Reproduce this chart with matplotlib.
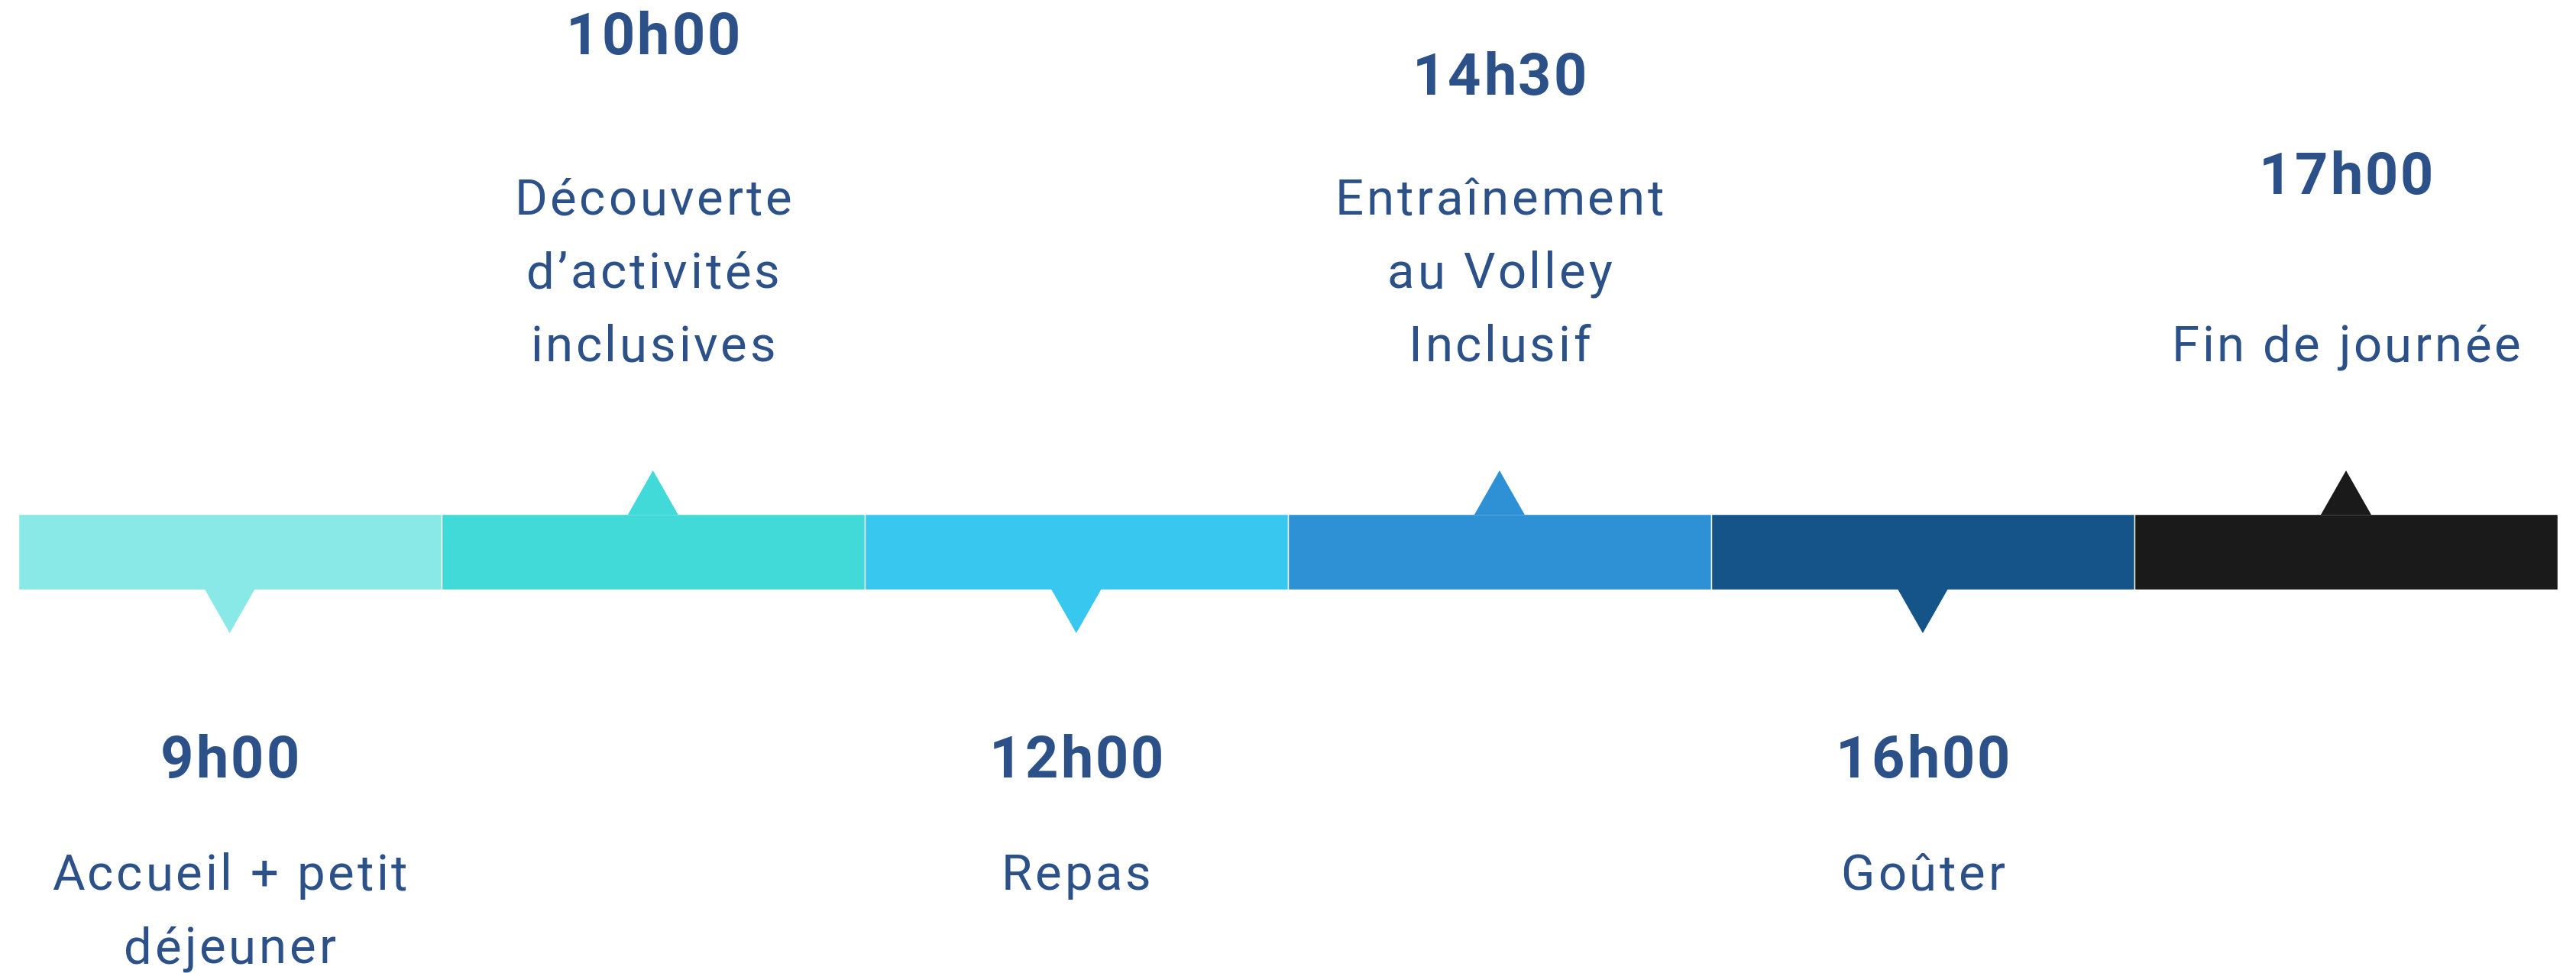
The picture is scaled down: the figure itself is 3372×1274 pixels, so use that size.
import matplotlib
matplotlib.use("Agg")
import matplotlib.pyplot as plt
from matplotlib.patches import Polygon
from matplotlib.font_manager import findfont, FontProperties
from matplotlib.ft2font import FT2Font

# ---- data ----
times = ["9h00", "10h00", "12h00", "14h30", "16h00", "17h00"]
activities = [
    ["Accueil + petit", "déjeuner"],
    ["Découverte", "d\u2019activités", "inclusives"],
    ["Repas"],
    ["Entraînement", "au Volley", "Inclusif"],
    ["Goûter"],
    ["Fin de journée"],
]
sides = ["below", "above", "below", "above", "below", "above"]
colors = ["#89E9E7", "#41DAD8", "#38C8EF", "#2E91D5", "#145489", "#1A1A1A"]

# ---- layout (pixel-based vertical scale) ----
W, H, DPI = 3372, 1274, 100
seg_px = 554.05
left_px = 23.7
bar_top, bar_bot = 673, 772
tri_half = 33 / seg_px
tri_h = 57
text_color = "#2C5189"
title_fs = 54.5
desc_fs = 47
title_track = 3.0
desc_track = 3.8
line_gap = 96
above_last_baseline = 473
above_title_baselines = {1: 71, 3: 124, 5: 254}
below_title_baseline = 1018
below_first_baseline = 1165

fig = plt.figure(figsize=(W / DPI, H / DPI), dpi=DPI)
ax = fig.add_axes([0, 0, 1, 1])
ax.set_xlim(-left_px / seg_px, (W - left_px) / seg_px)
ax.set_ylim(H, 0)
ax.axis("off")

_fonts = {}


def get_font(weight, size):
    key = (weight, size)
    if key not in _fonts:
        path = findfont(FontProperties(family="Roboto", weight=weight))
        f = FT2Font(path)
        f.set_size(size, DPI)
        _fonts[key] = f
    return _fonts[key]


def spaced_text(xc, y, s, size, weight, track):
    f = get_font(weight, size)
    advs = []
    for ch in s:
        g = f.load_char(ord(ch))
        advs.append(g.linearHoriAdvance / 65536.0)
    total = sum(advs) + track * (len(s) - 1)
    pen = -total / 2.0
    for ch, adv in zip(s, advs):
        if ch != " ":
            ax.text(xc + (pen + adv / 2.0) / seg_px, y, ch, ha="center",
                    va="baseline", fontsize=size, fontweight=weight,
                    family="Roboto", color=text_color)
        pen += adv + track


n = len(times)
idx = list(range(n))
ax.bar([i + 0.5 for i in idx], [bar_bot - bar_top] * n, width=1.0,
       bottom=bar_top, color=colors, edgecolor="white", linewidth=1.0, zorder=2)

for i in idx:
    c = i + 0.5
    if sides[i] == "above":
        pts = [(c - tri_half, bar_top + 1), (c + tri_half, bar_top + 1), (c, bar_top - tri_h)]
    else:
        pts = [(c - tri_half, bar_bot - 1), (c + tri_half, bar_bot - 1), (c, bar_bot + tri_h)]
    ax.add_patch(Polygon(pts, closed=True, facecolor=colors[i], edgecolor="none", zorder=3))

    lines = activities[i]
    if sides[i] == "above":
        tb = above_title_baselines[i]
        base0 = above_last_baseline - line_gap * (len(lines) - 1)
    else:
        tb = below_title_baseline
        base0 = below_first_baseline
    spaced_text(c, tb, times[i], title_fs, "bold", title_track)
    for k, ln in enumerate(lines):
        spaced_text(c, base0 + k * line_gap, ln, desc_fs, "normal", desc_track)

fig.savefig("out.png", dpi=DPI, facecolor="white")
